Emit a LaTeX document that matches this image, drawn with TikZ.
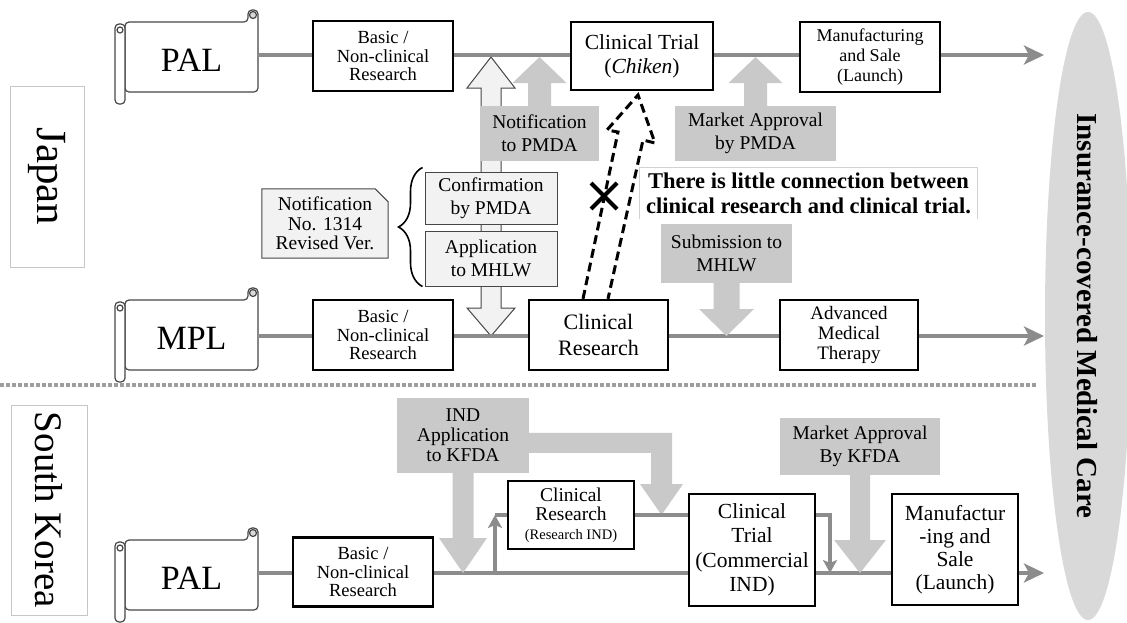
\documentclass[tikz,border=0pt]{standalone}
\usepackage{fontspec}
\setmainfont{Liberation Serif}
\usetikzlibrary{arrows.meta,calc,decorations.pathreplacing,backgrounds}

\definecolor{flowgray}{RGB}{140,140,140}
\definecolor{blockgray}{RGB}{201,201,201}
\definecolor{paleface}{RGB}{242,242,242}
\definecolor{capsule}{RGB}{217,217,217}
\definecolor{rimgray}{RGB}{70,70,70}

\newcommand{\fsz}[2]{\fontsize{#1}{#2}\selectfont}

% block arrow: [style]{tail}{tip}{half shaft}{half head}{head length}
\newcommand{\blockarrow}[6][]{%
  \path[#1] let \p1=(#2), \p2=(#3), \p3=($(#3)!#6pt!(#2)$) in
    ({\x1-#4pt},\y1) -- ({\x1-#4pt},\y3) -- ({\x1-#5pt},\y3) -- (\x1,\y2)
    -- ({\x1+#5pt},\y3) -- ({\x1+#4pt},\y3) -- ({\x1+#4pt},\y1) -- cycle;}

\tikzset{
  pics/scroll/.style={code={
    % sheet with the right roll
    \draw[rimgray, line width=1.2pt, fill=white, rounded corners=4pt]
      (0,0) -- (123,0) -- (123,-12) -- (133,-12) -- (133,70) -- (0,70) -- cycle;
    \draw[rimgray, line width=1.2pt, fill=capsule] (128,-7) circle (3.5);
    % left roll
    \draw[rimgray, line width=1.2pt, fill=white, rounded corners=4pt] (-10,2) rectangle (0,82);
    \draw[rimgray, line width=1.2pt] (-5,8) circle (3);
    \node[font=\fsz{34}{36}] (-txt) at (66.5,38) {#1};
    \coordinate (-out) at (133,35);
  }}
}

\begin{document}
\begin{tikzpicture}[x=1pt, y=-1pt,
    flow/.style={draw=flowgray, line width=4.5pt, -{Stealth[length=20pt,width=19pt,inset=5pt]}},
    branch/.style={draw=flowgray, line width=4pt},
    stage/.style={draw=black, fill=white, line width=2.3pt, align=center, inner sep=0pt},
    palebox/.style={draw=rimgray, fill=paleface, line width=1pt, align=center, inner sep=0pt, font=\fsz{19.5}{23}},
    gatebox/.style={fill=blockgray, align=center, inner sep=0pt, font=\fsz{19.5}{23}},
    country/.style={draw=gray!45, line width=0.8pt, fill=white, rotate=-90, inner sep=0pt}]

  \useasboundingbox (0,0) rectangle (1127,622);

  % Countries and the insurance capsule
  \node[country, minimum width=181pt, minimum height=74pt, font=\fsz{43}{45}] (japan) at (47,176.5) {Japan};
  \node[country, minimum width=210pt, minimum height=76pt, font=\fsz{39}{41}] (korea) at (49,510) {South Korea};
  \fill[capsule] (1088,316) ellipse [x radius=43pt, y radius=304pt];
  \node[rotate=-90, font=\bfseries\fsz{29}{30}] (care) at (1087,316) {Insurance-covered Medical Care};

  % Border between the two countries
  \coordinate (sepL) at (0,385);
  \coordinate (sepR) at (1036,385);
  \draw[flowgray!85, line width=3.5pt, dash pattern=on 3.5pt off 2.5pt] (sepL) -- (sepR);

  % Laws
  \pic (pal1) at (125,22) {scroll=PAL};
  \pic (mpl) at (125,300) {scroll=MPL};
  \pic (pal2) at (125,540) {scroll=PAL};

  % Routes
  \coordinate (end1) at (1044,55);
  \coordinate (end2) at (1044,336);
  \coordinate (end3) at (1044,573);
  \draw[flow] (pal1-out |- end1) -- (end1);
  \draw[flow] (mpl-out |- end2) -- (end2);
  \draw[flow] (pal2-out |- end3) -- (end3);

  % Japan, PAL
  \node[stage, minimum width=140pt, minimum height=70pt, font=\fsz{18.5}{18.5}] (bnr1) at (383,56) {Basic /\\Non-clinical\\Research};
  \node[stage, minimum width=142pt, minimum height=68pt, font=\fsz{21.5}{24}] (ct1) at (642,56) {Clinical Trial\\(\textit{Chiken})};
  \node[stage, minimum width=140pt, minimum height=70pt, font=\fsz{18}{20}] (ms1) at (870,57) {Manufacturing\\and Sale\\(Launch)};

  % Japan, MPL
  \node[stage, minimum width=140pt, minimum height=70pt, font=\fsz{18.5}{18.5}] (bnr2) at (383,335) {Basic /\\Non-clinical\\Research};
  \node[stage, minimum width=139pt, minimum height=70pt, font=\fsz{22}{26}] (cr2) at (598.5,335) {Clinical\\Research};
  \node[stage, minimum width=138pt, minimum height=70pt, font=\fsz{19}{20}] (amt) at (849,335) {Advanced\\Medical\\Therapy};

  % South Korea, PAL
  \node[stage, minimum width=140pt, minimum height=69pt, font=\fsz{18.5}{18.5}] (bnr3) at (363,572) {Basic /\\Non-clinical\\Research};
  \node[stage, minimum width=126pt, minimum height=68pt, font=\fsz{19.5}{19}] (crk) at (571,515) {Clinical\\Research\\{\fsz{14.5}{19}(Research IND)}};
  \node[stage, minimum width=126pt, minimum height=112pt, font=\fsz{21.5}{24.5}] (ctk) at (752,550) {Clinical\\Trial\\(Commercial\\IND)};
  \node[stage, minimum width=126pt, minimum height=111pt, font=\fsz{21.5}{23}] (msk) at (955,549.5) {Manufactur\\-ing and\\Sale\\(Launch)};

  % Procedures
  \node[palebox, minimum width=132pt, minimum height=52pt] (conf) at (491,198) {Confirmation\\by PMDA};
  \node[palebox, minimum width=132pt, minimum height=55pt] (appl) at (491,258.5) {Application\\to MHLW};
  \node[gatebox, minimum width=119pt, minimum height=55pt] (npmda) at (539.5,133.5) {Notification\\to PMDA};
  \node[gatebox, minimum width=161pt, minimum height=55pt] (mapmda) at (755.5,133.5) {Market Approval\\by PMDA};
  \node[gatebox, minimum width=131pt, minimum height=59pt] (sub) at (726.5,253.5) {Submission to\\MHLW};
  \node[gatebox, minimum width=132pt, minimum height=75pt, font=\fsz{19.5}{20}] (ind) at (463,435.5) {IND\\Application\\to KFDA};
  \node[gatebox, minimum width=160pt, minimum height=57pt] (makfda) at (860,446.5) {Market Approval\\By KFDA};

  % Notification No. 1314 and its brace
  \node[align=center, inner sep=0pt, minimum width=126pt, minimum height=69pt, font=\fsz{19.5}{19.5}] (notif) at (325,223.5) {Notification\\No. 1314\\Revised Ver.};
  \draw[line width=1.6pt, decorate, decoration={brace, amplitude=24pt}]
    ([xshift=-2pt]appl.south west) -- ([xshift=-2pt,yshift=4pt]conf.north west);

  \begin{scope}[on background layer]
    \path[fill=paleface, draw=rimgray, line width=1pt] (notif.south west) -- (notif.north west)
      -- ([xshift=-13pt]notif.north east) -- ([yshift=-13pt]notif.north east) -- (notif.south east) -- cycle;
    % two-way arrow behind the procedures
    \coordinate (wtop) at (conf.north |- end1);
    \coordinate (wbot) at (appl.south |- end2);
    \path[fill=paleface, draw=rimgray, line width=1pt] let \p1=(wtop), \p2=(wbot) in
      (\x1,{\y1-2pt}) -- ({\x1+24pt},{\y1-33pt}) -- ({\x1+10pt},{\y1-33pt}) -- ({\x1+10pt},{\y2+28pt})
      -- ({\x1+24pt},{\y2+28pt}) -- (\x1,\y2) -- ({\x1-24pt},{\y2+28pt}) -- ({\x1-10pt},{\y2+28pt})
      -- ({\x1-10pt},{\y1-33pt}) -- ({\x1-24pt},{\y1-33pt}) -- cycle;
  \end{scope}

  % Block arrows
  \coordinate (npmda-tip) at ([yshift=-2pt]npmda.north |- end1);
  \coordinate (mapmda-tip) at ([yshift=-2pt]mapmda.north |- end1);
  \coordinate (sub-tip) at (sub.south |- end2);
  \coordinate (ind-tip) at (ind.south |- end3);
  \coordinate (makfda-tip) at (makfda.south |- end3);
  \blockarrow[fill=blockgray]{npmda.north}{npmda-tip}{11.5}{27}{26}
  \blockarrow[fill=blockgray]{mapmda.north}{mapmda-tip}{11.5}{27}{26}
  \blockarrow[fill=blockgray]{sub.south}{sub-tip}{13}{27.5}{27}
  \blockarrow[fill=blockgray]{ind.south}{ind-tip}{10.5}{24}{35}
  \blockarrow[fill=blockgray]{makfda.south}{makfda-tip}{10}{26}{33}
  \coordinate (bend-tip) at ($(crk.east)!0.5!(ctk.west |- crk.east)$);
  \path[fill=blockgray] let \p1=(ind.north east), \p2=(bend-tip) in
    (\x1,{\y1-35pt}) -- ({\x2+10.5pt},{\y1-35pt}) -- ({\x2+10.5pt},{\y2+31pt}) -- ({\x2+21.5pt},{\y2+31pt})
    -- (\x2,\y2) -- ({\x2-21.5pt},{\y2+31pt}) -- ({\x2-10.5pt},{\y2+31pt}) -- ({\x2-10.5pt},{\y1-55pt})
    -- (\x1,{\y1-55pt}) -- cycle;

  % South Korea, research IND and commercial IND
  \coordinate (fork) at (495,573);
  \coordinate (join) at (830,573);
  \draw[branch, -{Stealth[length=13pt,width=14pt,inset=3pt]}] (fork) -- (fork |- crk.west);
  \draw[branch] (fork |- crk.west) -- (crk.west);
  \draw[branch] (crk.east) -- (ctk.west |- crk.east);
  \draw[branch, -{Stealth[length=13pt,width=14pt,inset=3pt]}] (ctk.east |- crk.east) -| (join);

  % Weak link from clinical research to clinical trial
  \draw[line width=3pt, dash pattern=on 9pt off 5pt]
    ($(cr2.north)+(-15.5,0)$) -- (618,132) -- (607,130) -- (638,95) -- (655,143) -- (643,140)
    -- ($(cr2.north)+(9.5,0)$);
  \draw[line width=4pt] (591,183) -- (617,209) (591,209) -- (617,183);

  \node[fill=white, inner sep=0pt, minimum width=337pt, minimum height=51pt, align=center,
    font=\bfseries\fsz{22.5}{25}] (gap) at (808.5,193) {There is little connection between\\clinical research and clinical trial.};
  \draw[gray!35, line width=0.8pt] (gap.south west) -- (gap.north west) -- (gap.north east) -- (gap.south east);
\end{tikzpicture}
\end{document}
